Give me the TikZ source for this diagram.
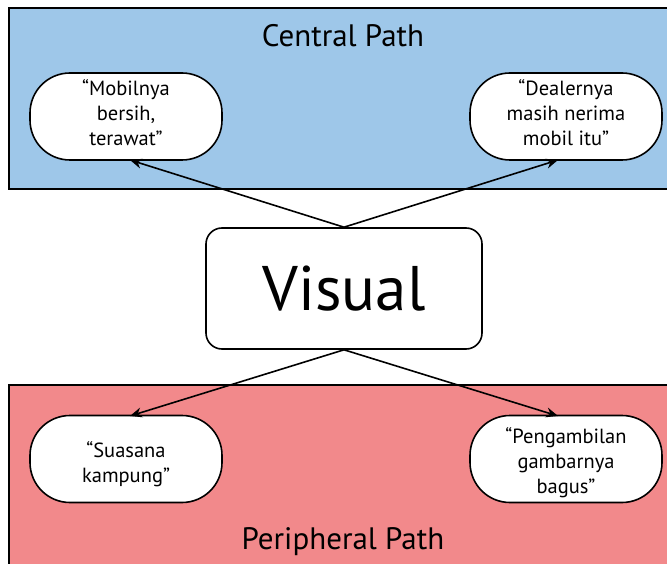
\documentclass[tikz,border=0pt]{standalone}
\usepackage{fontspec}
\setmainfont{PT Sans}
\usetikzlibrary{arrows.meta}
\definecolor{cblue}{RGB}{158,199,233}
\definecolor{cred}{RGB}{242,137,139}
\tikzset{
  pill/.style={draw=black, line width=1.6pt, fill=white, rounded corners=40pt, minimum width=192pt, minimum height=87pt, inner sep=0pt},
  pilltext/.style={align=center, font=\fontsize{20.5}{25}\selectfont, inner sep=0pt},
  band/.style={draw=black, line width=1.6pt},
  conn/.style={line width=1.6pt, -{Stealth[length=12pt,width=10pt]}},
}
\begin{document}
\begin{tikzpicture}[x=1pt,y=-1pt]
\useasboundingbox (0,0) rectangle (667,564);
\begin{scope}
\clip (0,0) rectangle (667,564);
\draw[band, fill=cblue] (9,8) rectangle (690,189);
\draw[band, fill=cred] (9,385) rectangle (690,600);
\end{scope}
\node[font=\fontsize{31}{35}\selectfont] (ct) at (343,36) {Central Path};
\node[font=\fontsize{31}{35}\selectfont] (pt) at (343,542) {Peripheral Path};
\node[pill] (a) at (126,116.5) {};
\node[pill] (b) at (566,116.5) {};
\node[pill] (c) at (126,459) {};
\node[pill] (d) at (566,459) {};
\node[pilltext] (at) at (126,113) {“Mobilnya\\bersih,\\terawat”};
\node[pilltext] (bt) at (566,113) {“Dealernya\\masih nerima\\mobil itu”};
\node[pilltext] (cta) at (126,464) {“Suasana\\kampung”};
\node[pilltext] (dt) at (566,463) {“Pengambilan\\gambarnya\\bagus”};
\node[draw=black, line width=1.6pt, fill=white, rounded corners=16pt, minimum width=276pt, minimum height=121pt, font=\fontsize{63}{70}\selectfont, inner sep=0pt] (v) at (344,288.5) {Visual};
\coordinate (va) at (130,160);
\coordinate (vb) at (558,160);
\coordinate (vc) at (130,416);
\coordinate (vd) at (558,416);
\draw[conn] (v.north) -- (va);
\draw[conn] (v.north) -- (vb);
\draw[conn] (v.south) -- (vc);
\draw[conn] (v.south) -- (vd);
\end{tikzpicture}
\end{document}
